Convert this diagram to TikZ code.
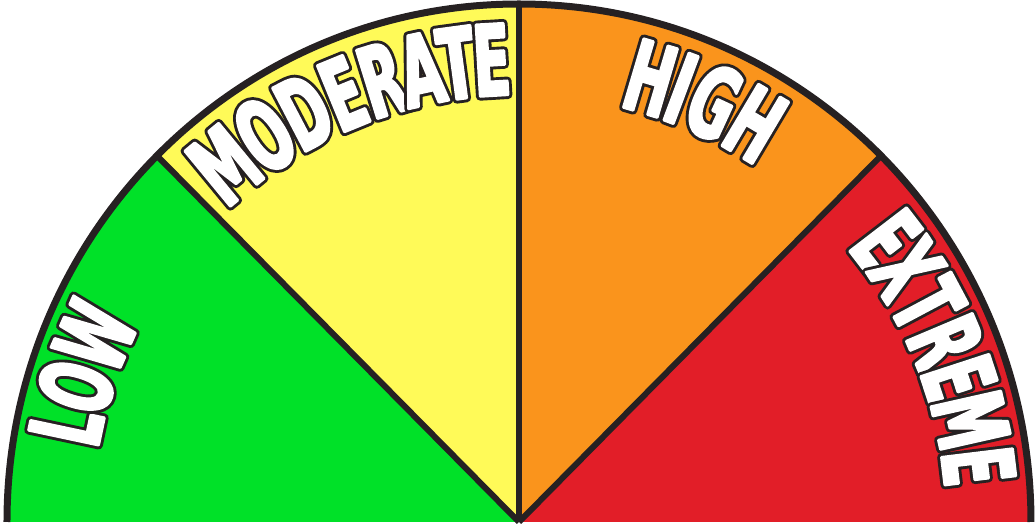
\documentclass[tikz,border=0pt]{standalone}
\usepackage{fontspec}
\newfontfamily\gaugefont[FakeStretch=0.55]{DejaVu Sans}

\definecolor{gaugeline}{RGB}{38,33,34}
\definecolor{lowgreen}{RGB}{0,225,40}
\definecolor{modyellow}{RGB}{255,250,88}
\definecolor{highorange}{RGB}{250,148,28}
\definecolor{extred}{RGB}{226,30,40}

% heavy white letter on a dark outline
\newcommand{\strokedtext}[2]{\special{pdf:literal direct #1 w 1 j 2 Tr}#2\special{pdf:literal direct 0 Tr}}
\newcommand{\gaugeletter}[1]{\rlap{\color{gaugeline}\strokedtext{4.8}{#1}}{\color{white}\strokedtext{1.5}{#1}}}

\tikzset{
    divider/.style={draw=gaugeline, line width=0.12cm},
    rim/.style={draw=gaugeline, line width=0.14cm},
    letter/.style={inner sep=0pt, font={\gaugefont\bfseries\fontsize{56pt}{56pt}\selectfont}}
}

\begin{document}
\begin{tikzpicture}[x=0.02cm, y=0.02cm]
    \useasboundingbox (-519,-2) rectangle (517,522);
    \coordinate (O) at (0,0);

    % Sectors of the gauge
    \foreach \col/\a/\b in {lowgreen/180/135, modyellow/135/90, highorange/90/45, extred/45/0}
        \fill[\col] (O) -- (\a:512 and 518) arc[start angle=\a, end angle=\b, x radius=512, y radius=518] -- cycle;

    % Dividing lines
    \foreach \a [count=\i] in {135,90,45} {
        \coordinate (edge\i) at (\a:512 and 518);
        \draw[divider] (O) -- (edge\i);
    }

    % Outer rim
    \coordinate (rimL) at (180:512 and 518);
    \draw[rim] (rimL) arc[start angle=180, end angle=0, x radius=512, y radius=518];

    % Labels, one letter at a time along the arc
    \foreach \ch/\ang [count=\i] in {L/168, O/163, W/156.3,
            M/129.5, O/123.3, D/117.6, E/112.3, R/107.2, A/102.2, T/97.7, E/93.4,
            H/73.5, I/69.5, G/65.1, H/59.3,
            E/37.5, X/33.1, T/28, R/22.9, E/18.1, M/12.7, E/6.9}
        \node[letter, rotate=\ang-90] (ch\i) at (\ang:463) {\gaugeletter{\ch}};
\end{tikzpicture}
\end{document}
